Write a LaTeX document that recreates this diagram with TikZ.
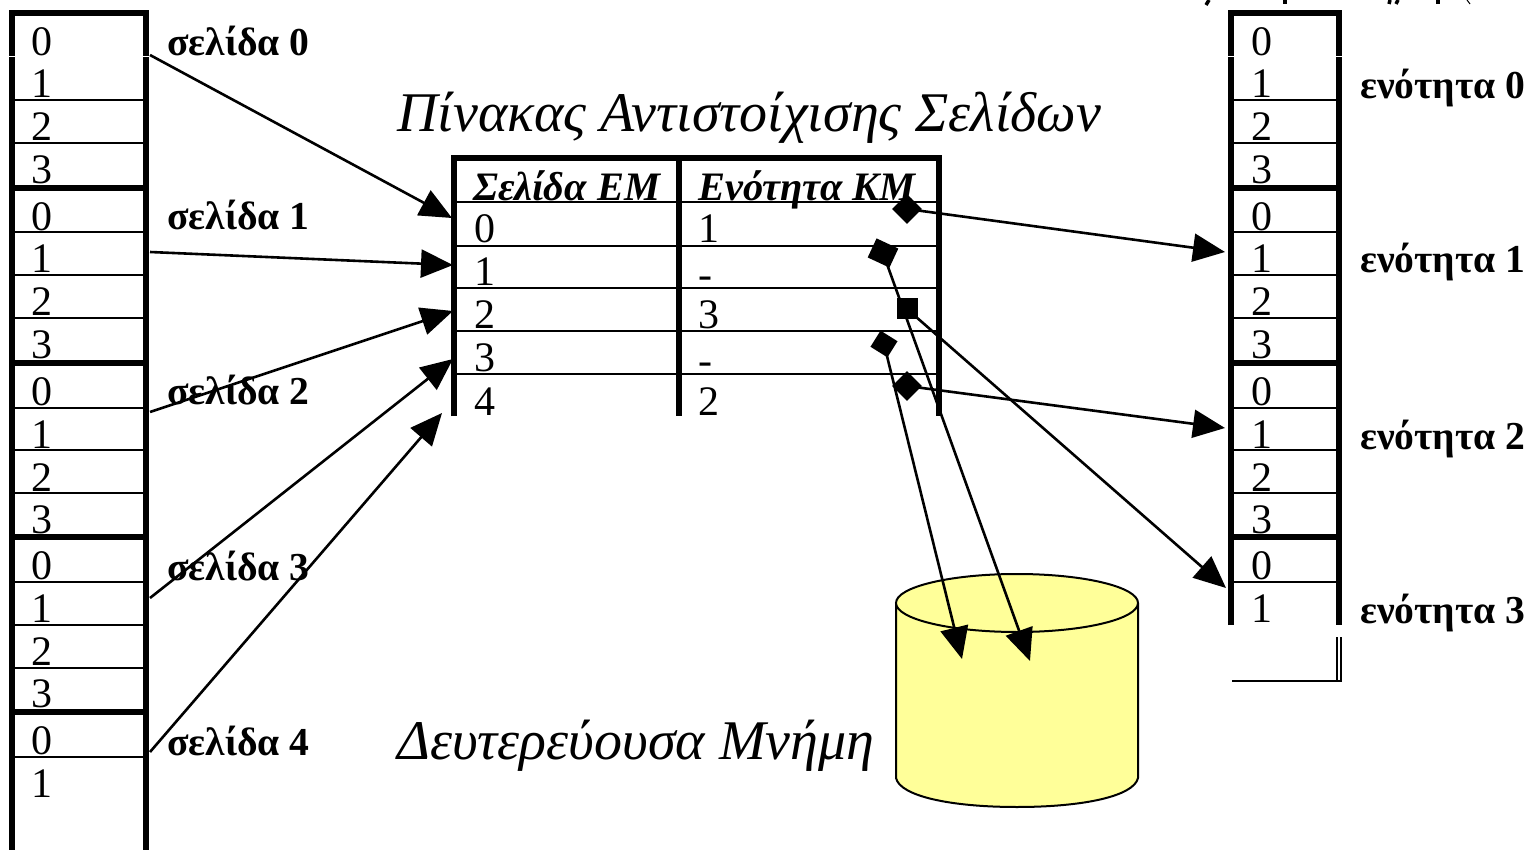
\documentclass[tikz,border=0pt]{standalone}
\usepackage{fontspec}
\setmainfont{Liberation Serif}
\usepackage{xcolor}
\usepackage{tikz}
\usetikzlibrary{arrows.meta}
\definecolor{diskYellow}{RGB}{255,255,153}
\tikzset{
  frameline/.style={line width=6pt, miter limit=10},
  rowline/.style={line width=1.8pt},
  digit/.style={font=\fontsize{42}{42}\selectfont, anchor=base, inner sep=0pt},
  partlabel/.style={font=\fontsize{39.6}{39.6}\selectfont\bfseries, anchor=base west, inner sep=0pt},
  headlabel/.style={font=\fontsize{40.4}{40.4}\selectfont\bfseries\itshape, anchor=base west, inner sep=0pt},
  titlelabel/.style={font=\fontsize{56}{56}\selectfont\itshape, anchor=base west, inner sep=0pt},
  pointer/.style={line width=2.6pt, -{Triangle[length=32pt,width=28pt]}},
  entrymark/.style={fill=black, inner sep=0pt, minimum width=21pt, minimum height=21pt},
}

\begin{document}
\begin{tikzpicture}[x=1pt, y=-1pt]
  \useasboundingbox (0,0) rectangle (1527,850);

  % virtual memory column
  \draw[frameline] (12,850) -- (12,13) -- (146,13) -- (146,850);
  \foreach \yrow in {188,363,537,712} \draw[frameline] (12,\yrow) -- (146,\yrow);
  \foreach \yrow in {100,143,232,275,318,408,450,493,582,625,668,757} \draw[rowline] (15,\yrow) -- (143,\yrow);
  \draw[white, line width=1pt] (8,57) -- (150,57);
  \foreach \yblock/\nblock in {13/0,188/1,363/2,537/3} {
    \foreach \nrow/\drow in {0/42.5,1/85,2/128,3/170.5} \node[digit] (page\nblock row\nrow) at (42,\yblock+\drow) {\nrow};
  }
  \node[digit] (page4row0) at (42,754.5) {0};
  \node[digit] (page4row1) at (42,797) {1};
  \node[partlabel] (page0) at (167,56) {σελίδα 0};
  \node[partlabel] (page1) at (167,230) {σελίδα 1};
  \node[partlabel] (page2) at (167,405) {σελίδα 2};
  \node[partlabel] (page3) at (167,580) {σελίδα 3};
  \node[partlabel] (page4) at (167,755) {σελίδα 4};

  % main memory column
  \draw[frameline] (1231,625) -- (1231,13) -- (1339,13) -- (1339,625);
  \foreach \yrow in {188,363,537} \draw[frameline] (1231,\yrow) -- (1339,\yrow);
  \foreach \yrow in {100,143,232,275,318,408,450,493,582} \draw[rowline] (1233,\yrow) -- (1337,\yrow);
  \draw[white, line width=1pt] (1227,57) -- (1343,57);
  \foreach \yblock/\nblock in {13/0,188/1,363/2} {
    \foreach \nrow/\drow in {0/42.5,1/85,2/128,3/170.5} \node[digit] (frame\nblock row\nrow) at (1262,\yblock+\drow) {\nrow};
  }
  \node[digit] (frame3row0) at (1262,579.5) {0};
  \node[digit] (frame3row1) at (1262,622) {1};
  \node[partlabel] (frame0) at (1360,99) {ενότητα 0};
  \node[partlabel] (frame1) at (1360,273) {ενότητα 1};
  \node[partlabel] (frame2) at (1360,449) {ενότητα 2};
  \node[partlabel] (frame3) at (1360,623) {ενότητα 3};
  \draw[rowline] (1337,637) -- (1337,680);
  \draw[rowline] (1341,637) -- (1341,681) -- (1232,681);

  % cut off marks along the top edge
  \draw[line width=3.5pt] (1209,0) -- (1206,5);
  \draw[line width=3.5pt] (1285,0) -- (1285,4);
  \draw[line width=3.5pt] (1390,0) -- (1389,4);
  \draw[line width=3.5pt] (1398,0) -- (1396,4);
  \draw[line width=3.5pt] (1438,0) -- (1438,4);
  \draw[line width=1pt] (1467,0) -- (1470,4);

  % page table
  \node[titlelabel] (tabletitle) at (397,132) {Πίνακας Αντιστοίχισης Σελίδων};
  \draw[frameline] (454,416) -- (454,158) -- (939,158) -- (939,416);
  \draw[frameline] (679,158) -- (679,416);
  \foreach \yrow in {202,246,288,331,374} \draw[rowline] (457,\yrow) -- (936,\yrow);
  \node[headlabel] (pagehead) at (473,201) {Σελίδα ΕΜ};
  \node[headlabel] (framehead) at (698,201) {Ενότητα ΚΜ};
  \foreach \nrow/\yrow in {0/243,1/286,2/329,3/372,4/415} \node[digit] (pagecell\nrow) at (484.5,\yrow) {\nrow};
  \foreach \nrow/\yrow/\entry in {0/243/1,2/329/3,4/415/2} \node[digit] (framecell\nrow) at (709,\yrow) {\entry};
  \node[digit] (framecell1) at (705,289) {-};
  \node[digit] (framecell3) at (705,375) {-};

  % secondary memory
  \node[titlelabel] (disktitle) at (397,759) {Δευτερεύουσα Μνήμη};
  \filldraw[fill=diskYellow, line width=2pt] (896,603) -- (896,778) .. controls (900,796) and (950,807) .. (1017,807) .. controls (1084,807) and (1134,796) .. (1138,778) -- (1138,603);
  \filldraw[fill=diskYellow, line width=2pt] (1017,603) ellipse [x radius=121, y radius=29];

  % pages to table
  \coordinate (pagestart0) at (150,55);
  \coordinate (pagestart1) at (150,252);
  \coordinate (pagestart2) at (150,412);
  \coordinate (pagestart3) at (150,598);
  \coordinate (pagestart4) at (150,752);
  \coordinate (tableend0) at (452,218);
  \coordinate (tableend1) at (453,265);
  \coordinate (tableend2) at (453,311);
  \coordinate (tableend3) at (453,359);
  \coordinate (tableend4) at (442,413);
  \foreach \nrow in {0,...,4} \draw[pointer] (pagestart\nrow) -- (tableend\nrow);

  % table to frames and disk
  \node[entrymark, rotate=45] (entry0) at (907,209) {};
  \node[entrymark, rotate=-25, minimum width=24pt] (entry1) at (883,253) {};
  \node[entrymark] (entry2) at (907,309) {};
  \node[entrymark, rotate=-32, minimum width=20pt, minimum height=19pt] (entry3) at (884,344) {};
  \node[entrymark, rotate=45] (entry4) at (907,386) {};
  \coordinate (frameend1) at (1225,252);
  \coordinate (frameend2) at (1225,428);
  \coordinate (frameend3) at (1226,588);
  \coordinate (diskend1) at (1030,661);
  \coordinate (diskend3) at (962,659);
  \draw[pointer] (entry0.center) -- (frameend1);
  \draw[pointer] (entry4.center) -- (frameend2);
  \draw[pointer] (entry2.center) -- (frameend3);
  \draw[pointer] (entry1.center) -- (diskend1);
  \draw[pointer] (entry3.center) -- (diskend3);
\end{tikzpicture}
\end{document}
